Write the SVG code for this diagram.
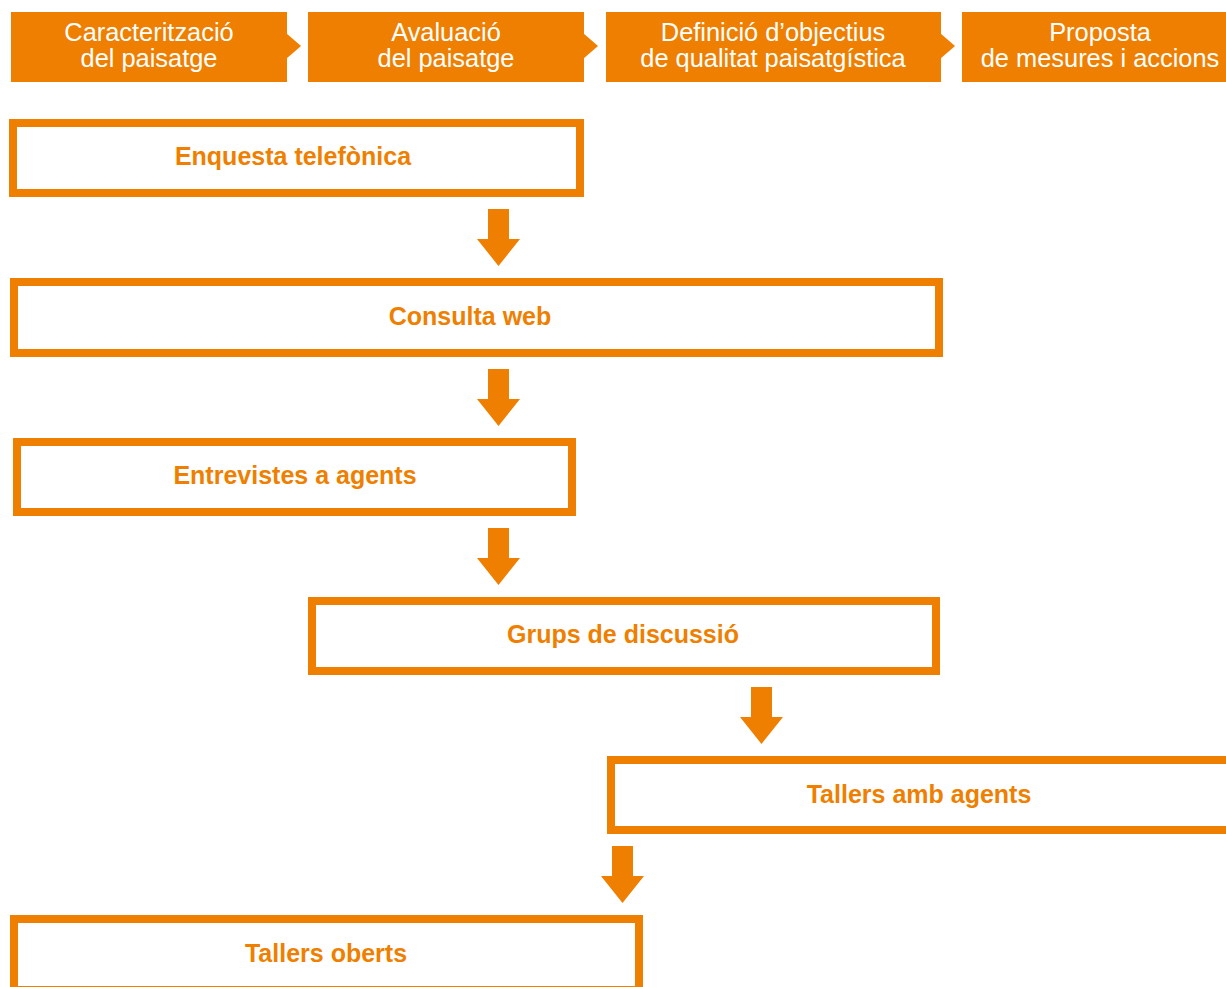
<svg xmlns="http://www.w3.org/2000/svg" width="1226" height="987" viewBox="0 0 1226 987">
<style>
.hd{fill:#EF7F00}
.ht{fill:#fff;font-family:"Liberation Sans",Arial,sans-serif;font-size:25.4px;text-anchor:middle}
.nb{fill:#fff;stroke:#EF7F00;stroke-width:8}
.nt{fill:#EF7F00;font-family:"Liberation Sans",Arial,sans-serif;font-size:25px;font-weight:bold;text-anchor:middle}
.ar{fill:#EF7F00}
</style>
<rect width="1226" height="987" fill="#fff"/>
<g id="header">
  <g id="h1"><rect class="hd" x="11" y="12" width="276" height="70"/><polygon class="hd" points="286,33 301,46 286,59"/>
    <text class="ht" x="149" y="41">Caracterització</text><text class="ht" x="149" y="67">del paisatge</text></g>
  <g id="h2"><rect class="hd" x="308" y="12" width="276" height="70"/><polygon class="hd" points="583,33 598,46 583,59"/>
    <text class="ht" x="446" y="41">Avaluació</text><text class="ht" x="446" y="67">del paisatge</text></g>
  <g id="h3"><rect class="hd" x="606" y="12" width="335" height="70"/><polygon class="hd" points="940,33 955,46 940,59"/>
    <text class="ht" x="773" y="41">Definició d’objectius</text><text class="ht" x="773" y="67">de qualitat paisatgística</text></g>
  <g id="h4"><rect class="hd" x="962" y="12" width="264" height="70"/>
    <text class="ht" x="1100" y="41">Proposta</text><text class="ht" x="1100" y="67">de mesures i accions</text></g>
</g>
<g id="n1"><rect class="nb" x="13" y="123" width="567" height="70"/><text class="nt" x="293" y="165">Enquesta telefònica</text></g>
<g id="n2"><rect class="nb" x="14" y="282" width="925" height="71"/><text class="nt" x="470" y="325">Consulta web</text></g>
<g id="n3"><rect class="nb" x="17" y="442" width="555" height="70"/><text class="nt" x="295" y="484">Entrevistes a agents</text></g>
<g id="n4"><rect class="nb" x="312" y="601" width="624" height="70"/><text class="nt" x="623" y="643">Grups de discussió</text></g>
<g id="n5"><rect class="nb" x="611" y="760" width="630" height="70"/><text class="nt" x="919" y="803">Tallers amb agents</text></g>
<g id="n6"><rect class="nb" x="14" y="919" width="625" height="71"/><text class="nt" x="326" y="962">Tallers oberts</text></g>
<g id="connectors">
  <polygon class="ar" points="488,209 509,209 509,239 520,239 498.5,266 477,239 488,239"/>
  <polygon class="ar" points="488,369 509,369 509,399 520,399 498.5,426 477,399 488,399"/>
  <polygon class="ar" points="488,528 509,528 509,558 520,558 498.5,585 477,558 488,558"/>
  <polygon class="ar" points="751,687 772,687 772,717 783,717 761.5,744 740,717 751,717"/>
  <polygon class="ar" points="612,846 633,846 633,876 644,876 622.5,903 601,876 612,876"/>
</g>
</svg>
